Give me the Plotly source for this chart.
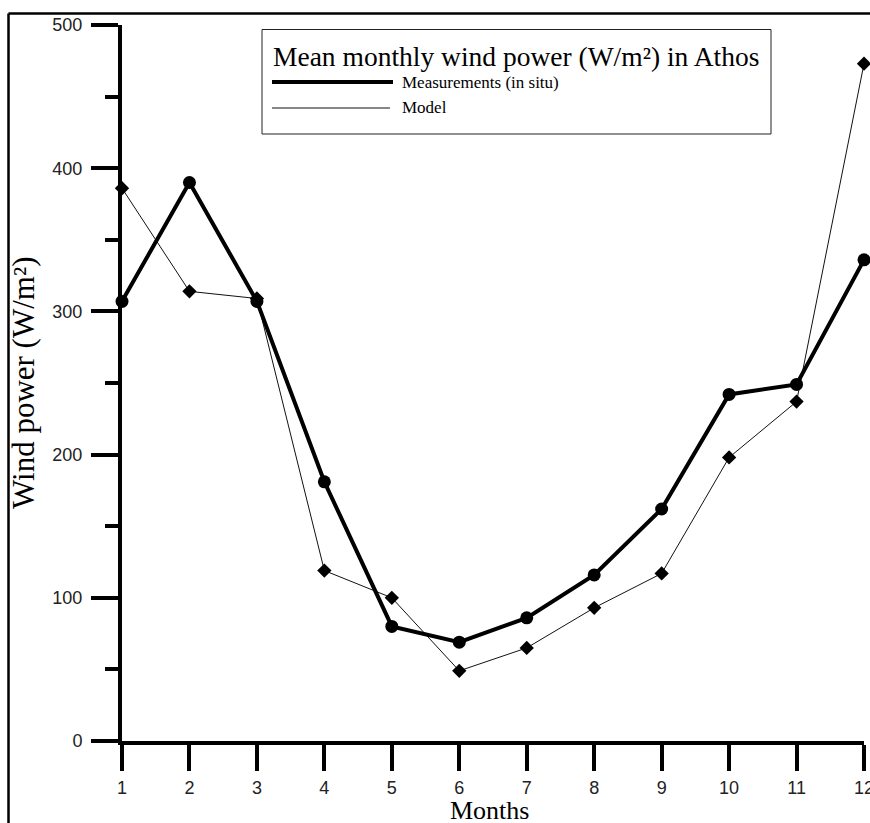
import plotly.graph_objects as go

# Monthly mean wind power at Athos (W/m²)
months = [1, 2, 3, 4, 5, 6, 7, 8, 9, 10, 11, 12]
measured = [307, 390, 307, 181, 80, 69, 86, 116, 162, 242, 249, 336]
model = [386, 314, 309, 119, 100, 49, 65, 93, 117, 198, 237, 473]
x_ticks = [1, 2, 3, 4, 5, 6, 7, 8, 9, 10, 11, 12]
y_ticks = [0, 100, 200, 300, 400, 500]

W, H = 870, 823
ML, MR, MT, MB = 122, 6, 25, 82
PW, PH = W - ML - MR, H - MT - MB


def px(xp):
    return (xp - ML) / PW


def py(yp):
    return (H - MB - yp) / PH


SERIF = "Liberation Serif, Times New Roman, serif"
SANS = "Liberation Sans, Arial, sans-serif"

fig = go.Figure()

fig.add_trace(go.Scatter(
    x=months, y=model, mode="lines+markers", name="Model",
    line=dict(color="#111111", width=1),
    marker=dict(symbol="diamond", size=11, color="black"),
    cliponaxis=False,
))
fig.add_trace(go.Scatter(
    x=months, y=measured, mode="lines+markers", name="Measurements (in situ)",
    line=dict(color="black", width=4),
    marker=dict(symbol="circle", size=13, color="black"),
    cliponaxis=False,
))

shapes = [
    # outer frame (left and top edges)
    dict(type="line", xref="paper", yref="paper", x0=px(8.5), x1=px(8.5),
         y0=py(13.5), y1=py(H + 5), line=dict(color="black", width=2.5)),
    dict(type="line", xref="paper", yref="paper", x0=px(8.5), x1=px(W + 5),
         y0=py(13.5), y1=py(13.5), line=dict(color="black", width=2.5)),
    # legend box
    dict(type="rect", xref="paper", yref="paper", x0=px(262), x1=px(771),
         y0=py(29.5), y1=py(134), line=dict(color="#222222", width=1),
         fillcolor="white"),
    # legend line samples
    dict(type="line", xref="paper", yref="paper", x0=px(272), x1=px(393),
         y0=py(82), y1=py(82), line=dict(color="black", width=4)),
    dict(type="line", xref="paper", yref="paper", x0=px(272), x1=px(390),
         y0=py(108), y1=py(108), line=dict(color="#111111", width=1)),
]

annotations = [
    dict(text="Mean monthly wind power (W/m²) in Athos", xref="paper", yref="paper",
         x=px(271), y=py(57), xanchor="left", yanchor="middle", showarrow=False,
         font=dict(family=SERIF, size=27.5, color="black")),
    dict(text="Measurements (in situ)", xref="paper", yref="paper",
         x=px(400), y=py(82), xanchor="left", yanchor="middle", showarrow=False,
         font=dict(family=SERIF, size=17, color="black")),
    dict(text="Model", xref="paper", yref="paper",
         x=px(400), y=py(107), xanchor="left", yanchor="middle", showarrow=False,
         font=dict(family=SERIF, size=17, color="black")),
    dict(text="Months", xref="paper", yref="paper",
         x=px(489), y=py(810), xanchor="center", yanchor="middle", showarrow=False,
         font=dict(family=SERIF, size=26, color="black")),
    dict(text="Wind power (W/m²)", xref="paper", yref="paper", textangle=-90,
         x=px(23), y=py(383), xanchor="center", yanchor="middle", showarrow=False,
         font=dict(family=SERIF, size=31, color="black")),
]

fig.update_layout(
    width=W, height=H,
    margin=dict(l=ML, r=MR, t=MT, b=MB, pad=0, autoexpand=False),
    paper_bgcolor="white", plot_bgcolor="white",
    showlegend=False,
    shapes=shapes, annotations=annotations,
    xaxis=dict(
        range=[1, 12], tickvals=x_ticks, ticktext=[str(v) for v in x_ticks],
        automargin=False,
        showgrid=False, zeroline=False, showline=True, linecolor="black", linewidth=4,
        ticks="outside", ticklen=26, tickwidth=4, tickcolor="black",
        ticklabelstandoff=1, ticklabeloverflow="allow",
        tickfont=dict(family=SANS, size=18, color="#222222"),
    ),
    yaxis=dict(
        range=[0, 500], tickvals=y_ticks, ticktext=[str(v) for v in y_ticks],
        automargin=False,
        showgrid=False, zeroline=False, showline=True, linecolor="black", linewidth=4,
        ticks="outside", ticklen=27, tickwidth=4, tickcolor="black",
        ticklabelstandoff=5, ticklabeloverflow="allow",
        tickfont=dict(family=SANS, size=18, color="#222222"),
        minor=dict(dtick=50, tick0=0, ticks="outside", ticklen=13, tickwidth=4,
                   tickcolor="black", showgrid=False),
    ),
)

fig.write_html("out.html")
